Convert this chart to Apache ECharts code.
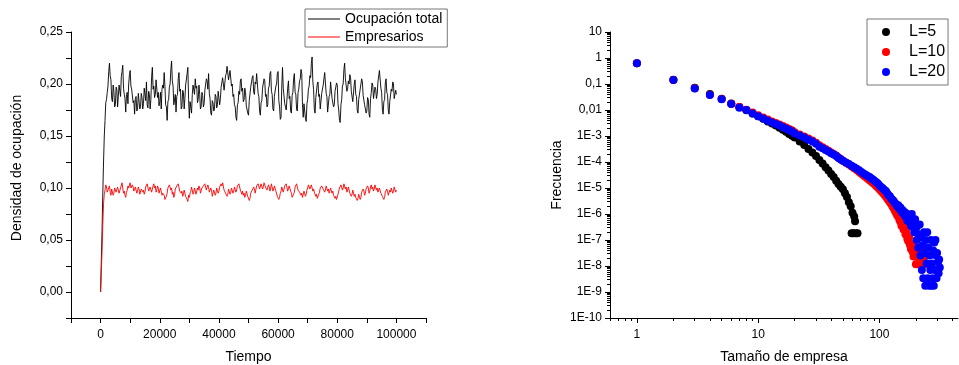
<!DOCTYPE html>
<html>
<head>
<meta charset="utf-8">
<script src="https://cdn.jsdelivr.net/npm/echarts@6.0.0/dist/echarts.min.js"></script>
<style>
  html, body { margin: 0; padding: 0; background: #fff; }
  #grafico { width: 959px; height: 365px; }
</style>
</head>
<body>
<div id="grafico"></div>
<script>
// densidad de ocupación, una muestra cada 250 pasos de tiempo (0 ... 100000)
var pasoTiempo = 250;
var ocupacionTotal = [
  0.000,0.030,0.060,0.095,0.125,0.150,0.165,0.182,0.185,0.192,0.198,0.212,0.220,0.208,0.204,0.186,0.183,0.199,0.193,0.178,
  0.180,0.197,0.195,0.178,0.179,0.199,0.198,0.188,0.207,0.212,0.218,0.196,0.190,0.186,0.173,0.190,0.192,0.181,0.200,0.209,
  0.213,0.198,0.195,0.196,0.182,0.184,0.171,0.186,0.188,0.174,0.176,0.191,0.190,0.176,0.178,0.191,0.187,0.176,0.181,0.196,
  0.195,0.184,0.202,0.180,0.177,0.193,0.190,0.176,0.185,0.207,0.216,0.195,0.198,0.187,0.190,0.204,0.205,0.187,0.192,0.179,
  0.183,0.192,0.176,0.195,0.199,0.196,0.211,0.198,0.180,0.178,0.165,0.183,0.185,0.197,0.200,0.214,0.222,0.203,0.198,0.180,
  0.180,0.190,0.173,0.188,0.190,0.205,0.211,0.193,0.195,0.176,0.178,0.194,0.192,0.176,0.186,0.199,0.200,0.210,0.216,0.185,
  0.167,0.183,0.182,0.172,0.190,0.199,0.198,0.190,0.205,0.196,0.198,0.182,0.185,0.199,0.190,0.176,0.178,0.192,0.189,0.178,
  0.181,0.194,0.195,0.205,0.203,0.195,0.210,0.191,0.186,0.172,0.170,0.184,0.182,0.174,0.176,0.190,0.188,0.177,0.180,0.193,
  0.192,0.180,0.186,0.197,0.196,0.206,0.207,0.194,0.195,0.208,0.210,0.217,0.218,0.204,0.205,0.213,0.212,0.198,0.200,0.188,
  0.190,0.180,0.178,0.168,0.165,0.180,0.182,0.193,0.190,0.203,0.205,0.193,0.196,0.183,0.185,0.196,0.192,0.179,0.178,0.172,
  0.170,0.184,0.185,0.197,0.196,0.206,0.208,0.192,0.190,0.202,0.200,0.210,0.211,0.191,0.188,0.174,0.170,0.182,0.184,0.196,
  0.195,0.205,0.203,0.188,0.190,0.178,0.180,0.196,0.198,0.210,0.212,0.193,0.190,0.176,0.174,0.188,0.188,0.198,0.200,0.210,
  0.212,0.184,0.178,0.166,0.168,0.198,0.216,0.196,0.195,0.181,0.182,0.175,0.176,0.196,0.203,0.186,0.188,0.174,0.172,0.189,
  0.192,0.205,0.210,0.192,0.190,0.176,0.174,0.192,0.195,0.203,0.205,0.214,0.210,0.180,0.168,0.181,0.180,0.167,0.164,0.181,
  0.185,0.195,0.198,0.208,0.206,0.220,0.226,0.202,0.195,0.176,0.172,0.187,0.188,0.200,0.202,0.188,0.190,0.176,0.177,0.191,
  0.192,0.199,0.200,0.211,0.210,0.191,0.188,0.173,0.172,0.188,0.190,0.202,0.202,0.186,0.185,0.178,0.180,0.193,0.192,0.201,
  0.199,0.181,0.175,0.165,0.163,0.180,0.185,0.198,0.200,0.214,0.220,0.205,0.205,0.193,0.195,0.203,0.200,0.209,0.206,0.193,
  0.192,0.183,0.184,0.200,0.204,0.190,0.188,0.175,0.172,0.185,0.186,0.195,0.195,0.205,0.202,0.189,0.190,0.180,0.180,0.172,
  0.174,0.187,0.185,0.171,0.168,0.186,0.192,0.201,0.199,0.186,0.187,0.197,0.195,0.186,0.190,0.202,0.203,0.213,0.212,0.196,
  0.192,0.176,0.171,0.183,0.185,0.201,0.205,0.192,0.190,0.175,0.171,0.183,0.184,0.195,0.193,0.202,0.200,0.186,0.187,0.194,
  0.190
];
var empresarios = [
  0.000,0.020,0.040,0.065,0.085,0.094,0.098,0.103,0.101,0.096,0.097,0.100,0.102,0.096,0.093,0.099,0.098,0.093,0.095,0.100,
  0.101,0.096,0.097,0.101,0.100,0.095,0.096,0.100,0.101,0.105,0.104,0.095,0.097,0.093,0.091,0.096,0.098,0.102,0.100,0.103,
  0.105,0.100,0.099,0.103,0.101,0.097,0.096,0.101,0.100,0.095,0.097,0.101,0.099,0.094,0.095,0.099,0.100,0.096,0.098,0.094,
  0.096,0.101,0.100,0.104,0.103,0.097,0.098,0.101,0.100,0.096,0.097,0.102,0.104,0.100,0.102,0.096,0.098,0.102,0.100,0.095,
  0.096,0.100,0.099,0.093,0.095,0.096,0.093,0.089,0.088,0.092,0.095,0.100,0.099,0.103,0.104,0.098,0.100,0.094,0.096,0.091,
  0.093,0.099,0.098,0.102,0.101,0.104,0.103,0.097,0.098,0.095,0.097,0.092,0.094,0.098,0.097,0.092,0.093,0.089,0.087,0.093,
  0.091,0.095,0.097,0.101,0.100,0.094,0.096,0.100,0.099,0.094,0.095,0.100,0.098,0.102,0.100,0.095,0.096,0.100,0.099,0.102,
  0.101,0.104,0.103,0.098,0.099,0.103,0.101,0.096,0.097,0.100,0.098,0.092,0.093,0.098,0.097,0.093,0.095,0.100,0.099,0.095,
  0.097,0.101,0.100,0.104,0.102,0.105,0.104,0.098,0.099,0.095,0.096,0.092,0.094,0.099,0.098,0.094,0.096,0.100,0.099,0.095,
  0.097,0.101,0.100,0.096,0.098,0.102,0.101,0.104,0.103,0.098,0.099,0.094,0.097,0.093,0.095,0.091,0.093,0.097,0.096,0.092,
  0.092,0.088,0.090,0.095,0.094,0.098,0.097,0.101,0.099,0.095,0.096,0.102,0.101,0.104,0.103,0.099,0.100,0.104,0.103,0.099,
  0.101,0.105,0.106,0.101,0.102,0.098,0.099,0.103,0.101,0.097,0.100,0.104,0.103,0.097,0.098,0.102,0.101,0.097,0.096,0.092,
  0.093,0.089,0.091,0.095,0.097,0.101,0.100,0.096,0.097,0.102,0.101,0.104,0.103,0.097,0.098,0.102,0.101,0.097,0.095,0.091,
  0.090,0.094,0.096,0.101,0.100,0.104,0.103,0.098,0.099,0.096,0.097,0.093,0.095,0.091,0.092,0.097,0.096,0.092,0.094,0.098,
  0.100,0.103,0.104,0.099,0.100,0.103,0.102,0.097,0.099,0.096,0.097,0.092,0.094,0.090,0.089,0.094,0.096,0.100,0.099,0.102,
  0.103,0.099,0.100,0.096,0.098,0.102,0.101,0.097,0.099,0.095,0.096,0.100,0.100,0.095,0.097,0.093,0.094,0.090,0.092,0.089,
  0.090,0.094,0.095,0.100,0.099,0.103,0.102,0.098,0.100,0.104,0.104,0.099,0.101,0.096,0.098,0.101,0.100,0.095,0.096,0.092,
  0.094,0.098,0.097,0.092,0.094,0.091,0.092,0.088,0.090,0.094,0.093,0.089,0.091,0.096,0.095,0.099,0.097,0.093,0.095,0.099,
  0.098,0.102,0.100,0.095,0.097,0.101,0.103,0.099,0.101,0.097,0.099,0.103,0.102,0.098,0.100,0.096,0.097,0.100,0.099,0.095,
  0.096,0.092,0.093,0.089,0.091,0.096,0.095,0.099,0.097,0.093,0.094,0.098,0.096,0.100,0.099,0.095,0.097,0.101,0.100,0.096,
  0.098
];

// distribución de tamaños de empresa
var tamL5 = [1,2,3,4,5,6,7,8,9,10,11,12,13,14,15,16,17,18,19,20,
  22,24,26,28,30,32,34,36,38,40,42,44,46,48,50,52,54,56,58,
  59,60,61,62,63,64,66];
var freqL5 = [6.31e-1,1.45e-1,7.24e-2,4.17e-2,2.69e-2,1.78e-2,1.29e-2,9.77e-3,7.41e-3,5.75e-3,
  4.57e-3,3.63e-3,3.02e-3,2.51e-3,2.09e-3,1.74e-3,1.45e-3,1.20e-3,1.02e-3,8.71e-4,
  6.17e-4,4.47e-4,3.16e-4,2.34e-4,1.70e-4,1.20e-4,8.71e-5,6.31e-5,4.68e-5,3.47e-5,
  2.63e-5,1.91e-5,1.41e-5,1.12e-5,8.91e-6,6.31e-6,4.47e-6,2.82e-6,2.00e-6,
  1.82e-7,1.12e-6,1.82e-7,7.94e-7,5.25e-7,1.82e-7,1.82e-7];

var tamL10 = [1,2,3,4,5,6,7,8,9,10,11,12,13,14,15,16,17,18,19,20,
  22,24,26,28,30,32,34,36,38,40,42,44,46,48,50,
  53,56,59,62,65,68,71,74,77,80,83,86,89,92,95,98,
  101,104,107,110,113,116,119,122,125,128,131,134,137,140,143,146,149,152,155,
  158,161,164,167,170,173,176,179,182,185,188,191,194,197,200,203,206,209,212,215,
  218,221,224,227,230,236,242,248];
var freqL10 = [6.31e-1,1.41e-1,6.92e-2,3.89e-2,2.63e-2,1.74e-2,1.29e-2,1.02e-2,7.94e-3,6.31e-3,
  5.13e-3,4.27e-3,3.63e-3,3.16e-3,2.75e-3,2.40e-3,2.14e-3,1.86e-3,1.66e-3,1.38e-3,
  1.15e-3,9.55e-4,7.94e-4,6.76e-4,5.50e-4,4.37e-4,3.72e-4,3.16e-4,2.69e-4,2.34e-4,
  2.04e-4,1.78e-4,1.48e-4,1.29e-4,1.12e-4,9.33e-5,7.94e-5,6.76e-5,5.75e-5,4.90e-5,
  4.17e-5,3.55e-5,3.02e-5,2.63e-5,2.29e-5,2.00e-5,1.74e-5,1.51e-5,1.32e-5,1.15e-5,
  1.00e-5,8.51e-6,7.41e-6,6.46e-6,5.50e-6,4.68e-6,3.98e-6,3.31e-6,2.82e-6,2.40e-6,
  2.00e-6,1.66e-6,1.32e-6,1.12e-6,8.91e-7,7.94e-7,6.03e-7,5.01e-7,3.55e-7,3.98e-7,
  2.51e-7,2.82e-7,1.66e-7,2.00e-7,1.12e-7,8.91e-8,1.26e-7,6.31e-8,4.47e-8,7.08e-8,
  3.55e-8,2.34e-8,5.01e-8,2.34e-8,1.17e-8,3.55e-8,1.17e-8,2.34e-8,1.17e-8,2.34e-8,
  1.17e-8,1.17e-8,3.55e-8,1.17e-8,1.17e-8,2.34e-8,1.17e-8,1.17e-8];

var tamL20 = [1,2,3,4,5,6,7,8,9,10,11,12,13,14,15,16,17,18,19,20,
  22,24,26,28,30,32,34,36,38,40,42,44,46,48,50,
  53,56,59,62,65,68,71,74,77,80,83,86,89,92,95,98,
  101,104,107,110,113,116,119,122,125,128,131,134,137,140,143,146,149,152,155,
  158,161,164,167,170,173,176,179,182,185,188,191,194,197,200,203,206,209,212,215,
  218,221,224,227,230,233,236,239,242,245,248,251,254,257,260,263,266,269,272,275,
  278,281,284,287,290,293,296,299,302,305,308,311,315];
var freqL20 = [6.31e-1,1.41e-1,6.76e-2,3.80e-2,2.57e-2,1.70e-2,1.23e-2,1.00e-2,7.41e-3,5.75e-3,
  4.68e-3,3.89e-3,3.31e-3,2.88e-3,2.51e-3,2.19e-3,1.91e-3,1.70e-3,1.48e-3,1.26e-3,
  1.05e-3,8.71e-4,7.24e-4,6.17e-4,5.01e-4,3.89e-4,3.39e-4,2.88e-4,2.51e-4,2.19e-4,
  1.95e-4,1.70e-4,1.41e-4,1.26e-4,1.12e-4,9.55e-5,8.32e-5,7.24e-5,6.31e-5,5.50e-5,
  4.79e-5,4.17e-5,3.63e-5,3.24e-5,2.88e-5,2.63e-5,2.34e-5,2.09e-5,1.82e-5,1.62e-5,
  1.41e-5,1.20e-5,1.07e-5,9.55e-6,8.32e-6,7.59e-6,6.31e-6,5.25e-6,4.79e-6,3.98e-6,
  3.55e-6,3.16e-6,2.63e-6,2.40e-6,2.00e-6,2.19e-6,1.58e-6,1.78e-6,1.26e-6,1.41e-6,
  1.00e-6,1.20e-6,7.94e-7,1.05e-6,5.62e-7,8.91e-7,5.01e-7,7.08e-7,3.55e-7,1.00e-6,
  3.16e-7,5.01e-7,2.00e-7,6.31e-7,2.51e-7,1.00e-7,3.55e-7,5.01e-8,1.58e-7,3.98e-7,
  2.51e-8,1.26e-7,7.08e-9,6.31e-8,3.39e-9,2.00e-7,3.16e-8,1.74e-9,1.00e-7,1.26e-8,
  2.00e-7,3.39e-9,5.01e-8,1.74e-9,2.51e-8,7.08e-9,1.00e-7,1.74e-9,1.26e-8,3.39e-9,
  3.98e-8,1.74e-9,7.94e-8,7.08e-9,1.00e-7,2.51e-8,3.39e-9,3.16e-8,7.08e-9,1.41e-8,
  5.25e-9,1.78e-8,8.71e-9];

// etiquetas de los ejes
var etiquetasTiempo = ['0','20000','40000','60000','80000','100000'];
var etiquetasDensidad = ['0,00','0,05','0,10','0,15','0,20','0,25'];
var etiquetasTamano = ['1','10','100'];
var etiquetasFrecuencia = ['1E-10','1E-9','1E-8','1E-7','1E-6','1E-5','1E-4','1E-3','0,01','0,1','1','10'];

var fuente = "'Liberation Sans', Arial, sans-serif";

function pares(xs, ys) {
  return ys.map(function (y, i) { return [xs[i], y]; });
}
function serieTiempo(ys) {
  return ys.map(function (y, i) { return [i * pasoTiempo, y]; });
}
// marcas menores de un eje logarítmico (2..9 en cada década)
function marcasMenores(desde, hasta) {
  var r = [];
  for (var e = desde; e <= hasta; e++) {
    for (var k = 2; k <= 9; k++) r.push(Number((k * Math.pow(10, e)).toPrecision(3)));
  }
  return r;
}
function decadas(desde, hasta) {
  var r = [];
  for (var e = desde; e <= hasta; e++) r.push(Number(Math.pow(10, e).toPrecision(3)));
  return r;
}

var linea = { show: true, onZero: false, lineStyle: { color: '#000', width: 1 } };
var marca = { show: true, length: 5, lineStyle: { color: '#000', width: 1 } };
var marcaMenor = { show: true, length: 3, lineStyle: { color: '#000', width: 1 } };
var textoEje = { color: '#000', fontSize: 12, fontFamily: fuente };
var textoNombre = { color: '#000', fontSize: 14, fontFamily: fuente };

var X_MIN = 0.6, X_MAX = 445;
var Y_MIN = 1e-10, Y_MAX = 10;

var myChart = echarts.init(document.getElementById('grafico'), null, { renderer: 'canvas' });
var option = {
  animation: false,
  backgroundColor: '#fff',
  grid: [
    { left: 71, top: 32, width: 355, height: 286, outerBoundsMode: 'none' },
    { left: 610, top: 32, width: 348, height: 286, outerBoundsMode: 'none' }
  ],
  legend: [
    {
      data: ['Ocupación total', 'Empresarios'],
      orient: 'vertical', left: 305, top: 9, icon: 'rect',
      padding: [3, 5, 3, 3], itemGap: 4,
      itemWidth: 32, itemHeight: 1,
      borderColor: '#777', borderWidth: 1,
      textStyle: { color: '#000', fontSize: 14, fontFamily: fuente }
    },
    {
      data: ['L=5', 'L=10', 'L=20'],
      orient: 'vertical', left: 867, top: 19, icon: 'circle',
      padding: [5, 3, 5, 15], itemGap: 4,
      itemWidth: 36, itemHeight: 8,
      borderColor: '#777', borderWidth: 1,
      textStyle: { color: '#000', fontSize: 16, fontFamily: fuente }
    }
  ],
  xAxis: [
    {
      type: 'value', gridIndex: 0, min: -10000, max: 110000, interval: 10000,
      axisLine: linea, axisTick: marca, splitLine: { show: false },
      axisLabel: Object.assign({ margin: 11, formatter: function (v) {
        if (v < 0 || v > 100000 || v % 20000 !== 0) return '';
        return etiquetasTiempo[v / 20000];
      } }, textoEje),
      name: 'Tiempo', nameLocation: 'middle', nameGap: 32, nameTextStyle: textoNombre
    },
    {
      type: 'log', gridIndex: 1, position: 'bottom', min: X_MIN, max: X_MAX,
      axisLine: linea, splitLine: { show: false },
      axisTick: Object.assign({ customValues: decadas(0, 2) }, marca),
      axisLabel: Object.assign({ margin: 11, customValues: decadas(0, 2), formatter: function (v) {
        return etiquetasTamano[Math.round(Math.log10(v))];
      } }, textoEje),
      name: 'Tamaño de empresa', nameLocation: 'middle', nameGap: 32, nameTextStyle: textoNombre
    },
    {
      type: 'log', gridIndex: 1, position: 'bottom', min: X_MIN, max: X_MAX,
      axisLine: { show: false }, splitLine: { show: false },
      axisTick: Object.assign({ customValues: marcasMenores(-1, 2) }, marcaMenor),
      axisLabel: { show: false }
    }
  ],
  yAxis: [
    {
      type: 'value', gridIndex: 0, min: -0.025, max: 0.25, interval: 0.025,
      axisLine: linea, axisTick: marca, splitLine: { show: false },
      axisLabel: Object.assign({ margin: 8, formatter: function (v) {
        var k = Math.round(v / 0.025);
        if (k < 0 || k % 2 !== 0) return '';
        return etiquetasDensidad[k / 2];
      } }, textoEje),
      name: 'Densidad de ocupación', nameLocation: 'middle', nameGap: 47,
      nameTextStyle: Object.assign({ padding: [0, 0, 0, 14] }, textoNombre)
    },
    {
      type: 'log', gridIndex: 1, position: 'left', min: Y_MIN, max: Y_MAX,
      axisLine: linea, splitLine: { show: false },
      axisTick: Object.assign({ customValues: decadas(-10, 1) }, marca),
      axisLabel: Object.assign({ margin: 8, customValues: decadas(-10, 1), formatter: function (v) {
        return etiquetasFrecuencia[Math.round(Math.log10(v)) + 10];
      } }, textoEje),
      name: 'Frecuencia', nameLocation: 'middle', nameGap: 46, nameTextStyle: textoNombre
    },
    {
      type: 'log', gridIndex: 1, position: 'left', min: Y_MIN, max: Y_MAX,
      axisLine: { show: false }, splitLine: { show: false },
      axisTick: Object.assign({ customValues: marcasMenores(-10, 0) }, marcaMenor),
      axisLabel: { show: false }
    }
  ],
  series: [
    {
      name: 'Ocupación total', type: 'line', xAxisIndex: 0, yAxisIndex: 0,
      data: serieTiempo(ocupacionTotal), symbol: 'none', showSymbol: false,
      lineStyle: { color: '#000', width: 0.9 }, itemStyle: { color: '#000' }
    },
    {
      name: 'Empresarios', type: 'line', xAxisIndex: 0, yAxisIndex: 0,
      data: serieTiempo(empresarios), symbol: 'none', showSymbol: false,
      lineStyle: { color: '#ff0000', width: 0.9 }, itemStyle: { color: '#ff0000' }
    },
    {
      name: 'L=5', type: 'scatter', xAxisIndex: 1, yAxisIndex: 1,
      data: pares(tamL5, freqL5), symbol: 'circle', symbolSize: 8,
      itemStyle: { color: '#000000', opacity: 1 }
    },
    {
      name: 'L=10', type: 'scatter', xAxisIndex: 1, yAxisIndex: 1,
      data: pares(tamL10, freqL10), symbol: 'circle', symbolSize: 8,
      itemStyle: { color: '#ff0000', opacity: 1 }
    },
    {
      name: 'L=20', type: 'scatter', xAxisIndex: 1, yAxisIndex: 1,
      data: pares(tamL20, freqL20), symbol: 'circle', symbolSize: 8,
      itemStyle: { color: '#0000ff', opacity: 1 }
    }
  ]
};
myChart.setOption(option);
</script>
</body>
</html>
